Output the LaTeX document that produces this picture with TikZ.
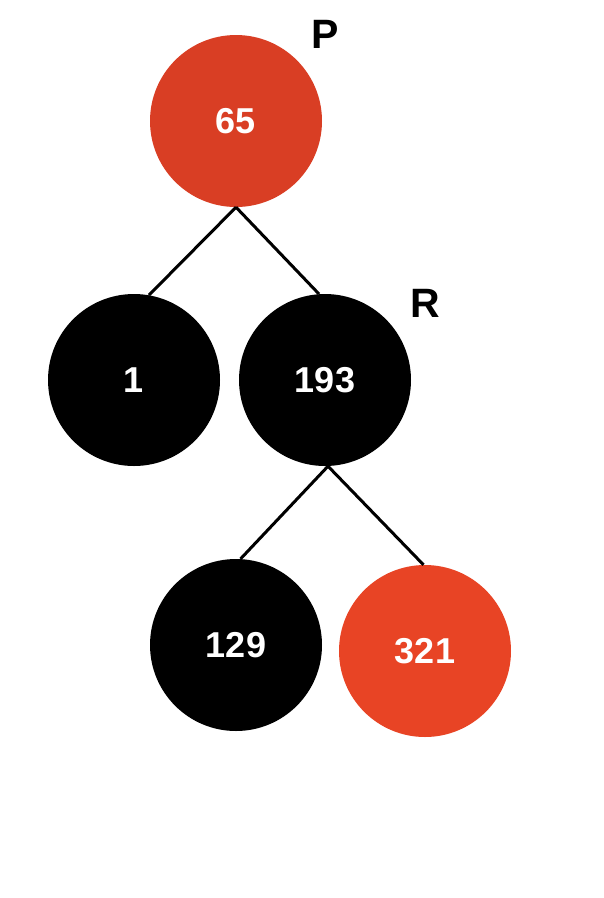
\documentclass[tikz,border=0pt]{standalone}
\usepackage{fontspec}
\setmainfont{Liberation Sans}
\definecolor{nodeRedA}{RGB}{217,62,36}
\definecolor{nodeRedB}{RGB}{232,68,37}
\begin{document}
\begin{tikzpicture}[x=1pt,y=-1pt,
  treenode/.style={circle,minimum size=172pt,inner sep=0pt,text=white,font=\fontsize{36}{40}\selectfont\bfseries},
  blacknode/.style={treenode,fill=black},
  rednode/.style={treenode,fill=nodeRedA},
  redtwo/.style={treenode,fill=nodeRedB},
  tag/.style={font=\fontsize{41}{45}\selectfont\bfseries,inner sep=0pt},
  edge/.style={line width=3pt}]
\useasboundingbox (0,0) rectangle (604,898);
\node[rednode] (n65) at (236,121) {65};
\node[blacknode] (n1) at (134,380) {1};
\node[blacknode] (n193) at (325,380) {193};
\node[blacknode] (n129) at (236,645) {129};
\node[redtwo] (n321) at (425,651) {321};
\node[tag] (tP) at (325,34) {P};
\node[tag] (tR) at (425,303) {R};
\draw[edge] (n65.south) -- (n1.80);
\draw[edge] (n65.south) -- (n193.94);
\draw[edge] ([xshift=3pt]n193.south) -- (n129.87);
\draw[edge] ([xshift=3pt]n193.south) -- (n321.91);
\end{tikzpicture}
\end{document}
